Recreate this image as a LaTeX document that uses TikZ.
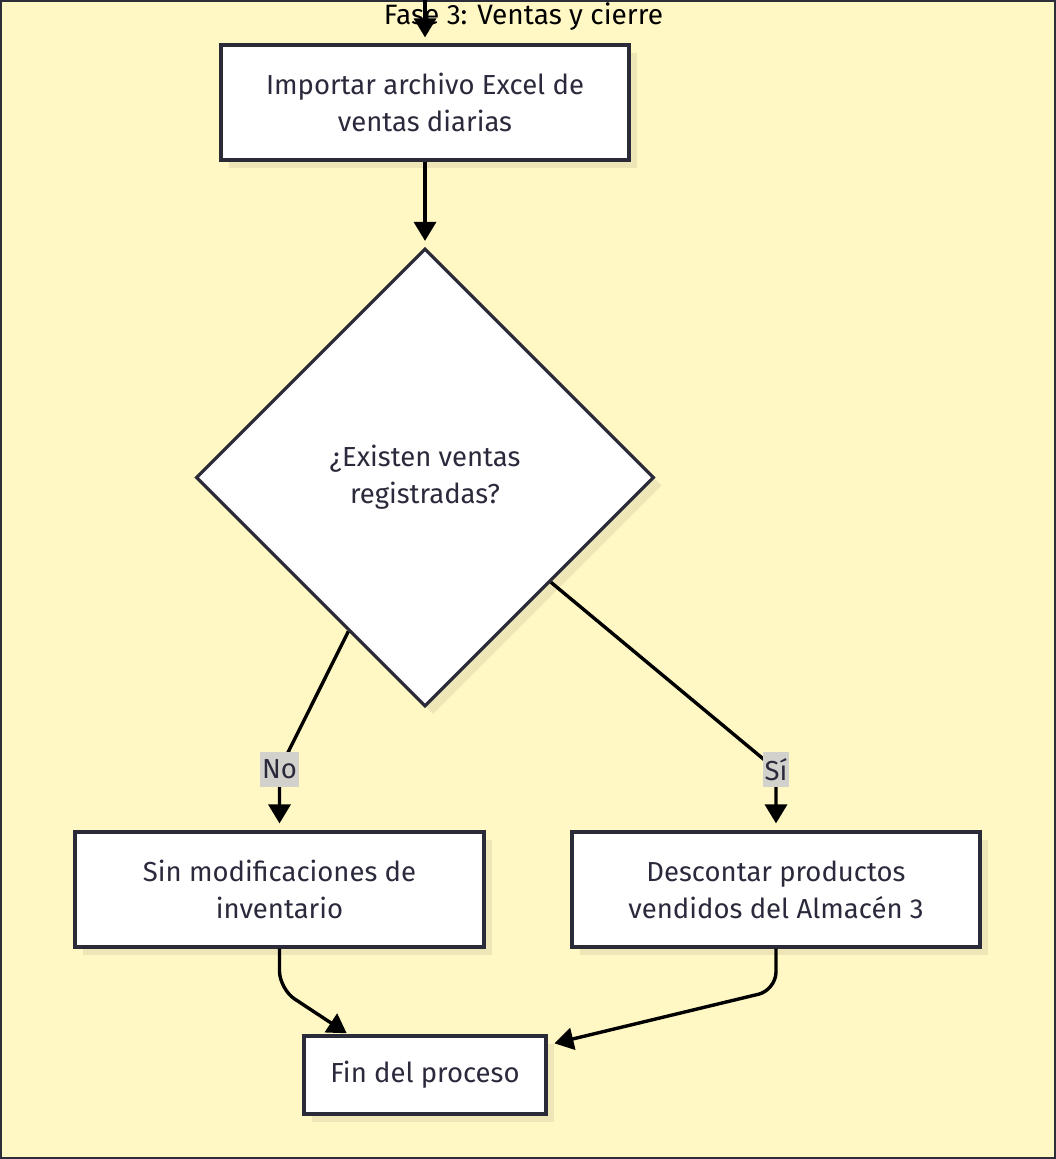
\documentclass[tikz,border=0pt]{standalone}
\usepackage{fontspec}
\setmainfont{Fira Sans}
\usetikzlibrary{shapes.geometric,arrows.meta,shadows}
\definecolor{bgc}{HTML}{FFF8C4}
\definecolor{framec}{HTML}{2E2E3A}
\definecolor{strokec}{HTML}{2A2A38}
\definecolor{textc}{HTML}{2A2A3C}
\definecolor{shadowc}{HTML}{EEE6B6}
\definecolor{labelc}{HTML}{D2D1CB}
\begin{document}
\begin{tikzpicture}[x=1pt,y=-1pt,
  txt/.style={font=\fontsize{27.5}{37}\selectfont},
  box/.style={txt, draw=strokec, line width=3.2pt, fill=white, text=textc, align=center,
    inner sep=0pt, general shadow={fill=shadowc, shadow xshift=8pt, shadow yshift=-8pt}},
  decision/.style={box, diamond, aspect=1},
  edge/.style={draw=black, line width=3.4pt, -{Triangle[length=19pt,width=22pt]}},
  lbl/.style={txt, fill=labelc, text=textc, inner xsep=2pt, inner ysep=0pt, minimum height=35pt}]
\useasboundingbox (0,0) rectangle (1056,1159);
\draw[fill=bgc, draw=framec, line width=2.6pt] (1,1) rectangle (1055,1158);
\node[txt, text=black, font=\fontsize{28}{37}\selectfont] (title) at (523.5,17) {Fase 3: Ventas y cierre};
\coordinate (top) at (425,0);
\node[box, minimum width=408pt, minimum height=115pt, text depth=0pt] (imp) at (425,102.5) {Importar archivo Excel de\\ventas diarias};
\node[decision, minimum width=458pt, minimum height=458pt] (dec) at (425,477.5) {¿Existen ventas\\registradas?};
\node[box, minimum width=409pt, minimum height=115pt] (nob) at (279.5,889.5) {Sin modificaciones de\\inventario};
\node[box, minimum width=408pt, minimum height=115pt] (sib) at (776,889.5) {Descontar productos\\vendidos del Almacén 3};
\node[box, minimum width=242pt, minimum height=78pt] (fin) at (425,1075) {Fin del proceso};
\coordinate (cNo) at (279.5,769.5);
\coordinate (cSi) at (776,769.5);
\coordinate (k1) at (279.5,989);
\coordinate (k2) at (776,990);
\draw[edge, shorten >=6pt] (top) -- (imp);
\draw[edge, shorten >=6pt] (imp) -- (dec.north);
\draw[edge, shorten >=7pt] (dec) -- (cNo) -- (nob.north);
\draw[edge, shorten >=7pt] (dec) -- (cSi) -- (sib.north);
\draw[edge, rounded corners=18pt, shorten >=2pt] (nob) -- (k1) -- ([xshift=46pt]fin.north west);
\draw[edge, rounded corners=18pt, shorten >=7pt] (sib) -- (k2) -- ([yshift=30pt]fin.east);
\node[lbl] (lNo) at (cNo) {No};
\node[lbl] (lSi) at (cSi) {Sí};
\end{tikzpicture}
\end{document}
